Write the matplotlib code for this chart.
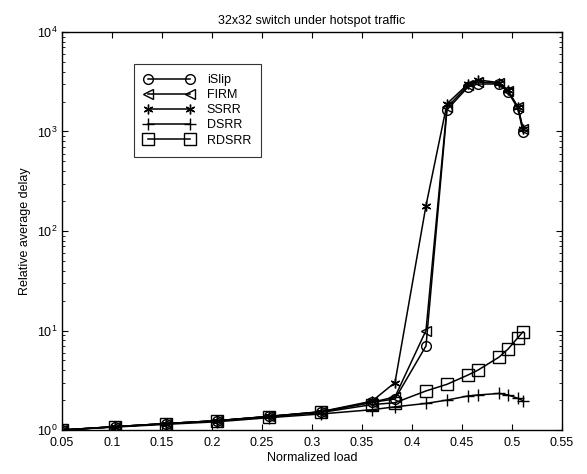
import matplotlib
matplotlib.use('Agg')
import matplotlib.pyplot as plt
from matplotlib.ticker import LogLocator, NullFormatter

plt.rcParams['font.family'] = ['Liberation Sans', 'DejaVu Sans']
plt.rcParams['mathtext.fontset'] = 'custom'
plt.rcParams['mathtext.rm'] = 'Liberation Sans'
plt.rcParams['mathtext.it'] = 'Liberation Sans'

# normalized load points
load = [0.05, 0.103, 0.154, 0.205, 0.257, 0.309, 0.36, 0.383, 0.414,
        0.435, 0.456, 0.466, 0.487, 0.496, 0.506, 0.511]

islip = [1.0, 1.08, 1.16, 1.24, 1.37, 1.52, 1.9, 2.05, 7.0,
         1650, 2800, 3000, 3000, 2500, 1700, 990]
firm = [1.0, 1.08, 1.16, 1.24, 1.37, 1.52, 1.9, 2.15, 10.0,
        1750, 2900, 3150, 3050, 2550, 1750, 1070]
ssrr = [1.0, 1.08, 1.16, 1.24, 1.37, 1.53, 1.95, 3.0, 180,
        1900, 3000, 3300, 3100, 2600, 1750, 1050]
dsrr = [1.0, 1.07, 1.14, 1.21, 1.33, 1.45, 1.6, 1.71, 1.85,
        2.0, 2.2, 2.25, 2.33, 2.25, 2.08, 1.97]
rdsrr = [1.0, 1.08, 1.16, 1.24, 1.36, 1.5, 1.8, 1.88, 2.47,
         2.88, 3.57, 4.0, 5.4, 6.5, 8.5, 9.7]

names = ['iSlip', 'FIRM', 'SSRR', 'DSRR', 'RDSRR']
series = [islip, firm, ssrr, dsrr, rdsrr]
markers = ['o', '<', (6, 2, 0), '+', 's']
msizes = [7, 7, 7, 8, 8.5]

xticks = [0.05, 0.1, 0.15, 0.2, 0.25, 0.3, 0.35, 0.4, 0.45, 0.5, 0.55]
xticklabels = ['0.05', '0.1', '0.15', '0.2', '0.25', '0.3', '0.35', '0.4',
               '0.45', '0.5', '0.55']

fig = plt.figure(figsize=(5.87, 4.74), dpi=100)
ax = fig.add_axes([0.1056, 0.0928, 0.8518, 0.8397])

for name, vals, m, ms in zip(names, series, markers, msizes):
    ax.plot(load, vals, color='black', lw=1.1, marker=m, ms=ms,
            mfc='none', mec='black', mew=1.0, label=name)

ax.set_yscale('log')
ax.set_xlim(0.05, 0.55)
ax.set_ylim(1, 1e4)
ax.set_xticks(xticks)
ax.set_xticklabels(xticklabels)
ax.yaxis.set_major_locator(LogLocator(base=10))
ax.yaxis.set_minor_locator(LogLocator(base=10, subs=range(2, 10)))
ax.yaxis.set_minor_formatter(NullFormatter())

ax.tick_params(which='both', direction='in', top=True, right=True,
               labelsize=9, colors='black')
ax.tick_params(which='major', length=4)
ax.tick_params(which='minor', length=2)
ax.tick_params(axis='x', pad=5)
for s in ax.spines.values():
    s.set_linewidth(1.0)

ax.set_title('32x32 switch under hotspot traffic', fontsize=9, pad=6)
ax.set_xlabel('Normalized load', fontsize=9, labelpad=2)
ax.set_ylabel('Relative average delay', fontsize=9, labelpad=4)

leg = ax.legend(loc='upper left', bbox_to_anchor=(0.132, 0.935),
                frameon=True, fancybox=False, edgecolor='black',
                handlelength=4.0, numpoints=2, fontsize=9, borderpad=0.8,
                labelspacing=0.25, handletextpad=1.0)
leg.get_frame().set_linewidth(0.8)

fig.savefig('out.png', dpi=100)
